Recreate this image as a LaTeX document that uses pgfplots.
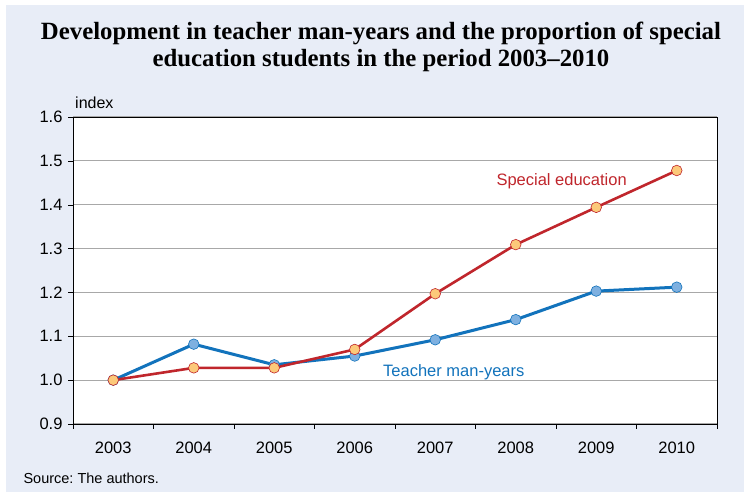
\documentclass[border=0pt]{standalone}
\usepackage{fontspec}
\setmainfont{Liberation Sans}
\newfontfamily\titlefont[Ligatures=TeX]{Liberation Serif}
\usepackage{pgfplots}
\pgfplotsset{compat=1.18}
\frenchspacing
\definecolor{bg}{HTML}{E8EDF7}
\definecolor{redl}{HTML}{C0262C}
\definecolor{bluel}{HTML}{1273BC}
\definecolor{redm}{HTML}{FCC97A}
\definecolor{bluem}{HTML}{7EB0E0}
\definecolor{gridc}{HTML}{A8A8A8}
\begin{document}
\begin{tikzpicture}[x=1pt,y=1pt]
\fill[white] (0,0) rectangle (744,492);
\fill[bg] (6,0) rectangle (744,487);
\node[font=\titlefont\bfseries\fontsize{24.8}{28}\selectfont] at (381,459) {Development in teacher man-years and the proportion of special};
\node[font=\titlefont\bfseries\fontsize{24.8}{28}\selectfont] at (381,431) {education students in the period 2003–2010};
\node[font=\fontsize{16}{18}\selectfont, anchor=west, inner sep=0pt] at (75,389) {index};
\node[font=\fontsize{14.5}{16}\selectfont, anchor=west] at (20,14) {Source: The authors.};
\begin{axis}[
  at={(73pt,68pt)}, anchor=south west,
  scale only axis, width=644pt, height=307pt,
  xmin=-0.5, xmax=7.5, ymin=0.9, ymax=1.6,
  axis background/.style={fill=white},
  xtick={0,1,2,3,4,5,6,7},
  xticklabels={2003,2004,2005,2006,2007,2008,2009,2010},
  minor xtick={-0.5,0.5,1.5,2.5,3.5,4.5,5.5,6.5,7.5},
  ytick={0.9,1.0,1.1,1.2,1.3,1.4,1.5,1.6},
  yticklabel style={/pgf/number format/fixed, /pgf/number format/fixed zerofill, /pgf/number format/precision=1, xshift=-2pt},
  /pgf/number format/assume math mode=true,
  tick label style={font=\fontsize{16.5}{19}\selectfont},
  tick align=outside, tick pos=left,
  major tick length=5pt, minor tick length=5pt,
  xtick style={draw=none},
  minor x tick style={draw=black, thin},
  ytick style={black, thin},
  ymajorgrids, grid style={gridc, line width=1pt},
  axis line style={black, line width=0.9pt},
  xticklabel style={yshift=-9pt},
  clip=false,
]
\addplot[bluel, line width=3pt, mark=*, mark size=5.3pt, mark options={fill=bluem, draw=bluel, line width=0.6pt}]
 coordinates {(0,1.000) (1,1.082) (2,1.035) (3,1.055) (4,1.092) (5,1.138) (6,1.203) (7,1.212)};
\addplot[redl, line width=2.6pt, mark=*, mark size=5.3pt, mark options={fill=redm, draw=redl, line width=0.6pt}]
 coordinates {(0,1.000) (1,1.028) (2,1.028) (3,1.070) (4,1.197) (5,1.309) (6,1.394) (7,1.478)};
\node[text=redl, font=\fontsize{16.5}{19}\selectfont] at (axis cs:5.57,1.454) {Special education};
\node[text=bluel, font=\fontsize{16.5}{19}\selectfont] at (axis cs:4.23,1.018) {Teacher man-years};
\end{axis}
\end{tikzpicture}
\end{document}
